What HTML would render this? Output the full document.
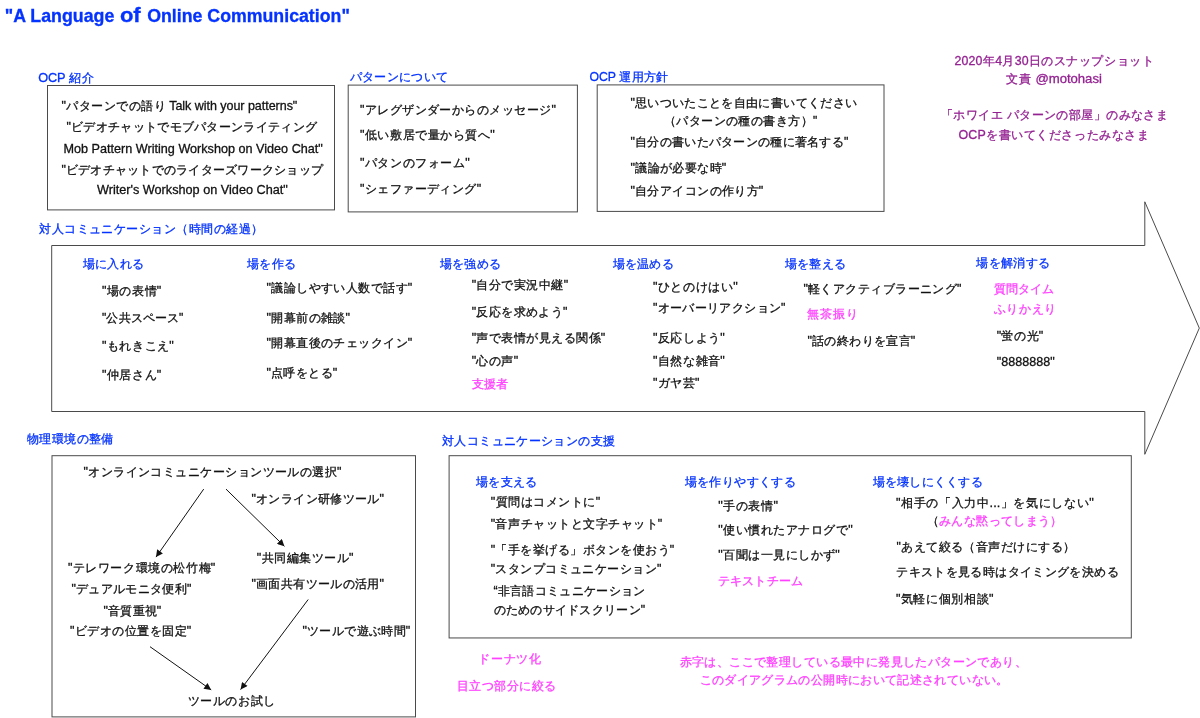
<!DOCTYPE html>
<html><head><meta charset="utf-8"><style>
html,body{margin:0;padding:0;background:#fff;width:1200px;height:718px;overflow:hidden}
svg{display:block;font-family:'Liberation Sans', sans-serif;will-change:transform}
text{stroke-width:0.3px}
</style></head><body>
<svg width="1200" height="718" viewBox="0 0 1200 718">

<g fill="none" stroke="#4a4a4a" stroke-width="1">
<rect x="47.5" y="85.5" width="287" height="124.4"/>
<rect x="348.2" y="85.1" width="229.2" height="126.8"/>
<rect x="597.2" y="84.9" width="286.8" height="126.5"/>
<path d="M51.7,245.5 H1144.8 V201.8 L1199.3,328.1 L1144.8,454.3 V411.5 H51.7 Z" stroke-linejoin="miter"/>
<rect x="52" y="455.7" width="363.5" height="261.2"/>
<rect x="449.1" y="455.7" width="682.2" height="182.25"/>
</g>
<defs><marker id="ah" viewBox="0 0 10 10" refX="10" refY="5" markerWidth="9" markerHeight="7" markerUnits="userSpaceOnUse" orient="auto">
<path d="M0,0 L10,5 L0,10 Z" fill="#111"/></marker></defs>
<g stroke="#111" stroke-width="1" marker-end="url(#ah)">
<line x1="203.7" y1="489.1" x2="156" y2="557.1"/>
<line x1="226" y1="489.1" x2="284.4" y2="546.3"/>
<line x1="150" y1="646.7" x2="211.2" y2="689.9"/>
<line x1="308.2" y1="599.5" x2="240.6" y2="689.6"/>
</g>

<text id="t0" x="4.70" y="21.50" font-size="17.79" font-weight="bold" textLength="109.60" lengthAdjust="spacing" fill="#0433ff" stroke="#0433ff"><tspan>&quot;A Language</tspan></text>
<text id="t1" x="119.90" y="21.50" font-size="19.80" font-weight="bold" textLength="20.80" lengthAdjust="spacingAndGlyphs" fill="#0433ff" stroke="#0433ff"><tspan>of</tspan></text>
<text id="t2" x="147.20" y="21.50" font-size="17.74" font-weight="bold" textLength="202.60" lengthAdjust="spacing" fill="#0433ff" stroke="#0433ff"><tspan>Online Communication&quot;</tspan></text>
<text id="t3" x="954.50" y="64.90" font-size="12.34" textLength="199.40" lengthAdjust="spacing" fill="#942192" stroke="#942192"><tspan>2020</tspan><tspan font-size="12.00" letter-spacing="0.34" dy="-0.00" dx="0.17">年</tspan><tspan dy="0.00" dx="-0.17">4</tspan><tspan font-size="12.00" letter-spacing="0.34" dy="-0.00" dx="0.17">月</tspan><tspan dy="0.00" dx="-0.17">30</tspan><tspan font-size="12.00" letter-spacing="0.34" dy="-0.00" dx="0.17">日のスナップショット</tspan></text>
<text id="t4" x="1005.50" y="83.40" font-size="13.17" textLength="95.80" lengthAdjust="spacing" fill="#942192" stroke="#942192"><tspan font-size="12.00" letter-spacing="1.17" dy="-0.00" dx="0.58">文責</tspan><tspan dy="0.00" dx="-0.58"> @motohasi</tspan></text>
<text id="t5" x="941.10" y="119.30" font-size="11.94" textLength="226.60" lengthAdjust="spacing" fill="#942192" stroke="#942192"><tspan font-size="12.00" letter-spacing="-0.06" dy="-0.00" dx="-0.03">「ホワイエ</tspan><tspan dy="0.00" dx="0.03"> </tspan><tspan font-size="12.00" letter-spacing="-0.06" dy="-0.00" dx="-0.03">パターンの部屋」のみなさま</tspan></text>
<text id="t6" x="958.50" y="139.00" font-size="12.45" textLength="190.80" lengthAdjust="spacing" fill="#942192" stroke="#942192"><tspan>OCP</tspan><tspan font-size="12.00" letter-spacing="0.45" dy="-0.00" dx="0.22">を書いてくださったみなさま</tspan></text>
<text id="t7" x="38.20" y="82.30" font-size="12.72" textLength="56.30" lengthAdjust="spacing" fill="#0433ff" stroke="#0433ff"><tspan>OCP </tspan><tspan font-size="12.00" letter-spacing="0.72" dy="-0.00" dx="0.36">紹介</tspan></text>
<text id="t8" x="349.50" y="80.80" font-size="12.22" textLength="98.80" lengthAdjust="spacing" fill="#0433ff" stroke="#0433ff"><tspan font-size="12.00" letter-spacing="0.22" dy="-0.00" dx="0.11">パターンについて</tspan></text>
<text id="t9" x="589.50" y="80.50" font-size="12.26" textLength="78.80" lengthAdjust="spacing" fill="#0433ff" stroke="#0433ff"><tspan>OCP </tspan><tspan font-size="12.00" letter-spacing="0.26" dy="-0.00" dx="0.13">運用方針</tspan></text>
<text id="t10" x="61.50" y="110.00" font-size="12.53" textLength="235.80" lengthAdjust="spacing" fill="#111" stroke="#111"><tspan>&quot;</tspan><tspan font-size="12.00" letter-spacing="0.53" dy="-0.00" dx="0.27">パターンでの語り</tspan><tspan dy="0.00" dx="-0.27"> Talk with your patterns&quot;</tspan></text>
<text id="t11" x="66.50" y="131.00" font-size="12.39" textLength="250.80" lengthAdjust="spacing" fill="#111" stroke="#111"><tspan>&quot;</tspan><tspan font-size="12.00" letter-spacing="0.39" dy="-0.00" dx="0.20">ビデオチャットでモブパターンライティング</tspan></text>
<text id="t12" x="63.50" y="152.50" font-size="12.63" textLength="259.30" lengthAdjust="spacing" fill="#111" stroke="#111"><tspan>Mob Pattern Writing Workshop on Video Chat&quot;</tspan></text>
<text id="t13" x="61.50" y="174.00" font-size="12.35" textLength="261.80" lengthAdjust="spacing" fill="#111" stroke="#111"><tspan>&quot;</tspan><tspan font-size="12.00" letter-spacing="0.35" dy="-0.00" dx="0.18">ビデオチャットでのライターズワークショップ</tspan></text>
<text id="t14" x="97.00" y="194.00" font-size="12.68" textLength="190.80" lengthAdjust="spacing" fill="#111" stroke="#111"><tspan>Writer&#x27;s Workshop on Video Chat&quot;</tspan></text>
<text id="t15" x="360.00" y="113.75" font-size="12.46" textLength="195.80" lengthAdjust="spacing" fill="#111" stroke="#111"><tspan>&quot;</tspan><tspan font-size="12.00" letter-spacing="0.46" dy="-0.00" dx="0.23">アレグザンダーからのメッセージ</tspan><tspan dy="0.00" dx="-0.23">&quot;</tspan></text>
<text id="t16" x="360.00" y="138.90" font-size="12.58" textLength="134.80" lengthAdjust="spacing" fill="#111" stroke="#111"><tspan>&quot;</tspan><tspan font-size="12.00" letter-spacing="0.58" dy="-0.00" dx="0.29">低い敷居で量から質へ</tspan><tspan dy="0.00" dx="-0.29">&quot;</tspan></text>
<text id="t17" x="360.00" y="166.50" font-size="12.60" textLength="109.80" lengthAdjust="spacing" fill="#111" stroke="#111"><tspan>&quot;</tspan><tspan font-size="12.00" letter-spacing="0.60" dy="-0.00" dx="0.30">パタンのフォーム</tspan><tspan dy="0.00" dx="-0.30">&quot;</tspan></text>
<text id="t18" x="360.00" y="193.25" font-size="12.46" textLength="121.05" lengthAdjust="spacing" fill="#111" stroke="#111"><tspan>&quot;</tspan><tspan font-size="12.00" letter-spacing="0.46" dy="-0.00" dx="0.23">シェファーディング</tspan><tspan dy="0.00" dx="-0.23">&quot;</tspan></text>
<text id="t19" x="630.50" y="106.50" font-size="12.41" textLength="226.80" lengthAdjust="spacing" fill="#111" stroke="#111"><tspan>&quot;</tspan><tspan font-size="12.00" letter-spacing="0.41" dy="-0.00" dx="0.20">思いついたことを自由に書いてください</tspan></text>
<text id="t20" x="663.90" y="125.30" font-size="11.90" textLength="153.40" lengthAdjust="spacing" fill="#111" stroke="#111"><tspan font-size="12.00" letter-spacing="-0.10" dy="-0.00" dx="-0.05">（パターンの種の書き方）</tspan><tspan dy="0.00" dx="0.05">&quot;</tspan></text>
<text id="t21" x="630.50" y="146.00" font-size="12.35" textLength="217.80" lengthAdjust="spacing" fill="#111" stroke="#111"><tspan>&quot;</tspan><tspan font-size="12.00" letter-spacing="0.35" dy="-0.00" dx="0.18">自分の書いたパターンの種に著名する</tspan><tspan dy="0.00" dx="-0.18">&quot;</tspan></text>
<text id="t22" x="630.50" y="171.50" font-size="12.55" textLength="95.80" lengthAdjust="spacing" fill="#111" stroke="#111"><tspan>&quot;</tspan><tspan font-size="12.00" letter-spacing="0.55" dy="-0.00" dx="0.28">議論が必要な時</tspan><tspan dy="0.00" dx="-0.28">&quot;</tspan></text>
<text id="t23" x="630.50" y="195.30" font-size="12.54" textLength="132.80" lengthAdjust="spacing" fill="#111" stroke="#111"><tspan>&quot;</tspan><tspan font-size="12.00" letter-spacing="0.54" dy="-0.00" dx="0.27">自分アイコンの作り方</tspan><tspan dy="0.00" dx="-0.27">&quot;</tspan></text>
<text id="t24" x="39.00" y="233.00" font-size="12.11" textLength="224.30" lengthAdjust="spacing" fill="#0433ff" stroke="#0433ff"><tspan font-size="12.00" letter-spacing="0.11" dy="-0.00" dx="0.06">対人コミュニケーション（時間の経過）</tspan></text>
<text id="t25" x="82.60" y="267.90" font-size="12.32" textLength="61.60" lengthAdjust="spacing" fill="#0433ff" stroke="#0433ff"><tspan font-size="12.00" letter-spacing="0.32" dy="-0.00" dx="0.16">場に入れる</tspan></text>
<text id="t26" x="246.70" y="267.90" font-size="12.37" textLength="49.50" lengthAdjust="spacing" fill="#0433ff" stroke="#0433ff"><tspan font-size="12.00" letter-spacing="0.37" dy="-0.00" dx="0.19">場を作る</tspan></text>
<text id="t27" x="439.70" y="267.90" font-size="12.30" textLength="61.50" lengthAdjust="spacing" fill="#0433ff" stroke="#0433ff"><tspan font-size="12.00" letter-spacing="0.30" dy="-0.00" dx="0.15">場を強める</tspan></text>
<text id="t28" x="612.40" y="267.90" font-size="12.30" textLength="61.50" lengthAdjust="spacing" fill="#0433ff" stroke="#0433ff"><tspan font-size="12.00" letter-spacing="0.30" dy="-0.00" dx="0.15">場を温める</tspan></text>
<text id="t29" x="784.90" y="267.70" font-size="12.18" textLength="60.90" lengthAdjust="spacing" fill="#0433ff" stroke="#0433ff"><tspan font-size="12.00" letter-spacing="0.18" dy="-0.00" dx="0.09">場を整える</tspan></text>
<text id="t30" x="975.90" y="266.50" font-size="12.36" textLength="74.60" lengthAdjust="spacing" fill="#0433ff" stroke="#0433ff"><tspan font-size="12.00" letter-spacing="0.36" dy="-0.00" dx="0.18">場を解消する</tspan></text>
<text id="t31" x="102.10" y="294.70" font-size="12.56" textLength="59.20" lengthAdjust="spacing" fill="#111" stroke="#111"><tspan>&quot;</tspan><tspan font-size="12.00" letter-spacing="0.56" dy="-0.00" dx="0.28">場の表情</tspan><tspan dy="0.00" dx="-0.28">&quot;</tspan></text>
<text id="t32" x="102.10" y="321.70" font-size="12.10" textLength="81.20" lengthAdjust="spacing" fill="#111" stroke="#111"><tspan>&quot;</tspan><tspan font-size="12.00" letter-spacing="0.10" dy="-0.00" dx="0.05">公共スペース</tspan><tspan dy="0.00" dx="-0.05">&quot;</tspan></text>
<text id="t33" x="102.10" y="349.90" font-size="12.55" textLength="71.70" lengthAdjust="spacing" fill="#111" stroke="#111"><tspan>&quot;</tspan><tspan font-size="12.00" letter-spacing="0.55" dy="-0.00" dx="0.28">もれきこえ</tspan><tspan dy="0.00" dx="-0.28">&quot;</tspan></text>
<text id="t34" x="102.10" y="379.20" font-size="12.56" textLength="59.20" lengthAdjust="spacing" fill="#111" stroke="#111"><tspan>&quot;</tspan><tspan font-size="12.00" letter-spacing="0.56" dy="-0.00" dx="0.28">仲居さん</tspan><tspan dy="0.00" dx="-0.28">&quot;</tspan></text>
<text id="t35" x="266.50" y="292.30" font-size="12.53" textLength="145.80" lengthAdjust="spacing" fill="#111" stroke="#111"><tspan>&quot;</tspan><tspan font-size="12.00" letter-spacing="0.53" dy="-0.00" dx="0.27">議論しやすい人数で話す</tspan><tspan dy="0.00" dx="-0.27">&quot;</tspan></text>
<text id="t36" x="266.50" y="322.20" font-size="12.62" textLength="83.60" lengthAdjust="spacing" fill="#111" stroke="#111"><tspan>&quot;</tspan><tspan font-size="12.00" letter-spacing="0.62" dy="-0.00" dx="0.31">開幕前の雑談</tspan><tspan dy="0.00" dx="-0.31">&quot;</tspan></text>
<text id="t37" x="266.50" y="347.20" font-size="12.53" textLength="145.80" lengthAdjust="spacing" fill="#111" stroke="#111"><tspan>&quot;</tspan><tspan font-size="12.00" letter-spacing="0.53" dy="-0.00" dx="0.27">開幕直後のチェックイン</tspan><tspan dy="0.00" dx="-0.27">&quot;</tspan></text>
<text id="t38" x="266.50" y="377.10" font-size="12.57" textLength="70.80" lengthAdjust="spacing" fill="#111" stroke="#111"><tspan>&quot;</tspan><tspan font-size="12.00" letter-spacing="0.57" dy="-0.00" dx="0.29">点呼をとる</tspan><tspan dy="0.00" dx="-0.29">&quot;</tspan></text>
<text id="t39" x="471.70" y="288.70" font-size="12.50" textLength="96.40" lengthAdjust="spacing" fill="#111" stroke="#111"><tspan>&quot;</tspan><tspan font-size="12.00" letter-spacing="0.50" dy="-0.00" dx="0.25">自分で実況中継</tspan><tspan dy="0.00" dx="-0.25">&quot;</tspan></text>
<text id="t40" x="471.70" y="316.30" font-size="12.42" textLength="95.80" lengthAdjust="spacing" fill="#111" stroke="#111"><tspan>&quot;</tspan><tspan font-size="12.00" letter-spacing="0.42" dy="-0.00" dx="0.21">反応を求めよう</tspan><tspan dy="0.00" dx="-0.21">&quot;</tspan></text>
<text id="t41" x="471.70" y="341.90" font-size="12.47" textLength="133.60" lengthAdjust="spacing" fill="#111" stroke="#111"><tspan>&quot;</tspan><tspan font-size="12.00" letter-spacing="0.47" dy="-0.00" dx="0.24">声で表情が見える関係</tspan><tspan dy="0.00" dx="-0.24">&quot;</tspan></text>
<text id="t42" x="471.70" y="365.40" font-size="12.53" textLength="46.50" lengthAdjust="spacing" fill="#111" stroke="#111"><tspan>&quot;</tspan><tspan font-size="12.00" letter-spacing="0.53" dy="-0.00" dx="0.26">心の声</tspan><tspan dy="0.00" dx="-0.26">&quot;</tspan></text>
<text id="t43" x="471.70" y="388.10" font-size="12.10" textLength="36.30" lengthAdjust="spacing" fill="#ff40ff" stroke="#ff40ff"><tspan font-size="12.00" letter-spacing="0.10" dy="-0.00" dx="0.05">支援者</tspan></text>
<text id="t44" x="653.10" y="290.50" font-size="12.60" textLength="84.60" lengthAdjust="spacing" fill="#111" stroke="#111"><tspan>&quot;</tspan><tspan font-size="12.00" letter-spacing="0.60" dy="-0.00" dx="0.30">ひとのけはい</tspan><tspan dy="0.00" dx="-0.30">&quot;</tspan></text>
<text id="t45" x="653.10" y="311.90" font-size="12.36" textLength="132.40" lengthAdjust="spacing" fill="#111" stroke="#111"><tspan>&quot;</tspan><tspan font-size="12.00" letter-spacing="0.36" dy="-0.00" dx="0.18">オーバーリアクション</tspan><tspan dy="0.00" dx="-0.18">&quot;</tspan></text>
<text id="t46" x="653.10" y="341.60" font-size="12.55" textLength="71.70" lengthAdjust="spacing" fill="#111" stroke="#111"><tspan>&quot;</tspan><tspan font-size="12.00" letter-spacing="0.55" dy="-0.00" dx="0.28">反応しよう</tspan><tspan dy="0.00" dx="-0.28">&quot;</tspan></text>
<text id="t47" x="653.10" y="365.00" font-size="12.55" textLength="71.70" lengthAdjust="spacing" fill="#111" stroke="#111"><tspan>&quot;</tspan><tspan font-size="12.00" letter-spacing="0.55" dy="-0.00" dx="0.28">自然な雑音</tspan><tspan dy="0.00" dx="-0.28">&quot;</tspan></text>
<text id="t48" x="653.10" y="386.60" font-size="12.50" textLength="46.40" lengthAdjust="spacing" fill="#111" stroke="#111"><tspan>&quot;</tspan><tspan font-size="12.00" letter-spacing="0.50" dy="-0.00" dx="0.25">ガヤ芸</tspan><tspan dy="0.00" dx="-0.25">&quot;</tspan></text>
<text id="t49" x="803.40" y="293.20" font-size="12.44" textLength="158.10" lengthAdjust="spacing" fill="#111" stroke="#111"><tspan>&quot;</tspan><tspan font-size="12.00" letter-spacing="0.44" dy="-0.00" dx="0.22">軽くアクティブラーニング</tspan><tspan dy="0.00" dx="-0.22">&quot;</tspan></text>
<text id="t50" x="806.50" y="317.80" font-size="12.15" textLength="51.40" lengthAdjust="spacing" fill="#ff40ff" stroke="#ff40ff"><tspan font-size="12.00" letter-spacing="0.15" dy="-0.00" dx="0.07">無茶振り</tspan></text>
<text id="t51" x="807.50" y="345.20" font-size="12.55" textLength="107.80" lengthAdjust="spacing" fill="#111" stroke="#111"><tspan>&quot;</tspan><tspan font-size="12.00" letter-spacing="0.55" dy="-0.00" dx="0.27">話の終わりを宣言</tspan><tspan dy="0.00" dx="-0.27">&quot;</tspan></text>
<text id="t52" x="993.70" y="293.20" font-size="12.04" textLength="60.60" lengthAdjust="spacing" fill="#ff40ff" stroke="#ff40ff"><tspan font-size="12.00" letter-spacing="0.04" dy="-0.00" dx="0.02">質問タイム</tspan></text>
<text id="t53" x="993.70" y="313.20" font-size="12.04" textLength="62.60" lengthAdjust="spacing" fill="#ff40ff" stroke="#ff40ff"><tspan font-size="12.00" letter-spacing="0.04" dy="-0.00" dx="0.02">ふりかえり</tspan></text>
<text id="t54" x="996.80" y="340.20" font-size="12.50" textLength="46.40" lengthAdjust="spacing" fill="#111" stroke="#111"><tspan>&quot;</tspan><tspan font-size="12.00" letter-spacing="0.50" dy="-0.00" dx="0.25">蛍の光</tspan><tspan dy="0.00" dx="-0.25">&quot;</tspan></text>
<text id="t55" x="996.80" y="365.60" font-size="12.56" textLength="57.80" lengthAdjust="spacing" fill="#111" stroke="#111"><tspan>&quot;8888888&quot;</tspan></text>
<text id="t56" x="26.50" y="442.80" font-size="12.46" textLength="87.20" lengthAdjust="spacing" fill="#0433ff" stroke="#0433ff"><tspan font-size="12.00" letter-spacing="0.46" dy="-0.00" dx="0.23">物理環境の整備</tspan></text>
<text id="t57" x="83.50" y="476.30" font-size="12.52" textLength="258.00" lengthAdjust="spacing" fill="#111" stroke="#111"><tspan>&quot;</tspan><tspan font-size="12.00" letter-spacing="0.52" dy="-0.00" dx="0.26">オンラインコミュニケーションツールの選択</tspan><tspan dy="0.00" dx="-0.26">&quot;</tspan></text>
<text id="t58" x="251.50" y="503.00" font-size="12.52" textLength="132.40" lengthAdjust="spacing" fill="#111" stroke="#111"><tspan>&quot;</tspan><tspan font-size="12.00" letter-spacing="0.52" dy="-0.00" dx="0.26">オンライン研修ツール</tspan><tspan dy="0.00" dx="-0.26">&quot;</tspan></text>
<text id="t59" x="256.80" y="562.30" font-size="12.54" textLength="96.70" lengthAdjust="spacing" fill="#111" stroke="#111"><tspan>&quot;</tspan><tspan font-size="12.00" letter-spacing="0.54" dy="-0.00" dx="0.27">共同編集ツール</tspan><tspan dy="0.00" dx="-0.27">&quot;</tspan></text>
<text id="t60" x="251.50" y="588.00" font-size="12.52" textLength="132.40" lengthAdjust="spacing" fill="#111" stroke="#111"><tspan>&quot;</tspan><tspan font-size="12.00" letter-spacing="0.52" dy="-0.00" dx="0.26">画面共有ツールの活用</tspan><tspan dy="0.00" dx="-0.26">&quot;</tspan></text>
<text id="t61" x="68.00" y="572.10" font-size="12.58" textLength="147.30" lengthAdjust="spacing" fill="#111" stroke="#111"><tspan>&quot;</tspan><tspan font-size="12.00" letter-spacing="0.58" dy="-0.00" dx="0.29">テレワーク環境の松竹梅</tspan><tspan dy="0.00" dx="-0.29">&quot;</tspan></text>
<text id="t62" x="71.40" y="592.80" font-size="12.35" textLength="119.90" lengthAdjust="spacing" fill="#111" stroke="#111"><tspan>&quot;</tspan><tspan font-size="12.00" letter-spacing="0.35" dy="-0.00" dx="0.17">デュアルモニタ便利</tspan><tspan dy="0.00" dx="-0.17">&quot;</tspan></text>
<text id="t63" x="103.50" y="614.50" font-size="12.48" textLength="57.80" lengthAdjust="spacing" fill="#111" stroke="#111"><tspan>&quot;</tspan><tspan font-size="12.00" letter-spacing="0.48" dy="-0.00" dx="0.24">音質重視</tspan><tspan dy="0.00" dx="-0.24">&quot;</tspan></text>
<text id="t64" x="69.90" y="635.00" font-size="12.50" textLength="121.40" lengthAdjust="spacing" fill="#111" stroke="#111"><tspan>&quot;</tspan><tspan font-size="12.00" letter-spacing="0.50" dy="-0.00" dx="0.25">ビデオの位置を固定</tspan><tspan dy="0.00" dx="-0.25">&quot;</tspan></text>
<text id="t65" x="302.50" y="635.00" font-size="12.49" textLength="107.80" lengthAdjust="spacing" fill="#111" stroke="#111"><tspan>&quot;</tspan><tspan font-size="12.00" letter-spacing="0.49" dy="-0.00" dx="0.24">ツールで遊ぶ時間</tspan><tspan dy="0.00" dx="-0.24">&quot;</tspan></text>
<text id="t66" x="187.50" y="704.50" font-size="12.26" textLength="87.80" lengthAdjust="spacing" fill="#111" stroke="#111"><tspan font-size="12.00" letter-spacing="0.26" dy="-0.00" dx="0.13">ツールのお試し</tspan></text>
<text id="t67" x="441.80" y="445.20" font-size="12.38" textLength="173.30" lengthAdjust="spacing" fill="#0433ff" stroke="#0433ff"><tspan font-size="12.00" letter-spacing="0.38" dy="-0.00" dx="0.19">対人コミュニケーションの支援</tspan></text>
<text id="t68" x="476.10" y="485.50" font-size="12.20" textLength="61.00" lengthAdjust="spacing" fill="#0433ff" stroke="#0433ff"><tspan font-size="12.00" letter-spacing="0.20" dy="-0.00" dx="0.10">場を支える</tspan></text>
<text id="t69" x="684.30" y="485.50" font-size="12.42" textLength="111.80" lengthAdjust="spacing" fill="#0433ff" stroke="#0433ff"><tspan font-size="12.00" letter-spacing="0.42" dy="-0.00" dx="0.21">場を作りやすくする</tspan></text>
<text id="t70" x="872.40" y="486.20" font-size="12.28" textLength="110.50" lengthAdjust="spacing" fill="#0433ff" stroke="#0433ff"><tspan font-size="12.00" letter-spacing="0.28" dy="-0.00" dx="0.14">場を壊しにくくする</tspan></text>
<text id="t71" x="490.80" y="506.00" font-size="12.55" textLength="109.30" lengthAdjust="spacing" fill="#111" stroke="#111"><tspan>&quot;</tspan><tspan font-size="12.00" letter-spacing="0.55" dy="-0.00" dx="0.27">質問はコメントに</tspan><tspan dy="0.00" dx="-0.27">&quot;</tspan></text>
<text id="t72" x="490.80" y="528.00" font-size="12.51" textLength="171.50" lengthAdjust="spacing" fill="#111" stroke="#111"><tspan>&quot;</tspan><tspan font-size="12.00" letter-spacing="0.51" dy="-0.00" dx="0.25">音声チャットと文字チャット</tspan><tspan dy="0.00" dx="-0.25">&quot;</tspan></text>
<text id="t73" x="490.80" y="554.00" font-size="12.47" textLength="183.50" lengthAdjust="spacing" fill="#111" stroke="#111"><tspan>&quot;</tspan><tspan font-size="12.00" letter-spacing="0.47" dy="-0.00" dx="0.24">「手を挙げる」ボタンを使おう</tspan><tspan dy="0.00" dx="-0.24">&quot;</tspan></text>
<text id="t74" x="490.80" y="573.00" font-size="12.43" textLength="170.50" lengthAdjust="spacing" fill="#111" stroke="#111"><tspan>&quot;</tspan><tspan font-size="12.00" letter-spacing="0.43" dy="-0.00" dx="0.22">スタンプコミュニケーション</tspan><tspan dy="0.00" dx="-0.22">&quot;</tspan></text>
<text id="t75" x="493.50" y="595.00" font-size="12.36" textLength="152.00" lengthAdjust="spacing" fill="#111" stroke="#111"><tspan>“</tspan><tspan font-size="12.00" letter-spacing="0.36" dy="-0.00" dx="0.18">非言語コミュニケーション</tspan></text>
<text id="t76" x="493.50" y="614.30" font-size="12.25" textLength="151.40" lengthAdjust="spacing" fill="#111" stroke="#111"><tspan font-size="12.00" letter-spacing="0.25" dy="-0.00" dx="0.13">のためのサイドスクリーン</tspan><tspan dy="0.00" dx="-0.13">&quot;</tspan></text>
<text id="t77" x="718.30" y="510.10" font-size="12.65" textLength="59.60" lengthAdjust="spacing" fill="#111" stroke="#111"><tspan>&quot;</tspan><tspan font-size="12.00" letter-spacing="0.65" dy="-0.00" dx="0.32">手の表情</tspan><tspan dy="0.00" dx="-0.32">&quot;</tspan></text>
<text id="t78" x="718.30" y="533.80" font-size="12.56" textLength="134.50" lengthAdjust="spacing" fill="#111" stroke="#111"><tspan>&quot;</tspan><tspan font-size="12.00" letter-spacing="0.56" dy="-0.00" dx="0.28">使い慣れたアナログで</tspan><tspan dy="0.00" dx="-0.28">&quot;</tspan></text>
<text id="t79" x="718.30" y="559.10" font-size="12.51" textLength="121.50" lengthAdjust="spacing" fill="#111" stroke="#111"><tspan>&quot;</tspan><tspan font-size="12.00" letter-spacing="0.51" dy="-0.00" dx="0.26">百聞は一見にしかず</tspan><tspan dy="0.00" dx="-0.26">&quot;</tspan></text>
<text id="t80" x="717.50" y="584.50" font-size="12.23" textLength="85.60" lengthAdjust="spacing" fill="#ff40ff" stroke="#ff40ff"><tspan font-size="12.00" letter-spacing="0.23" dy="-0.00" dx="0.11">テキストチーム</tspan></text>
<text id="t81" x="896.00" y="507.10" font-size="12.72" textLength="197.80" lengthAdjust="spacing" fill="#111" stroke="#111"><tspan>&quot;</tspan><tspan font-size="12.00" letter-spacing="0.72" dy="-0.00" dx="0.36">相手の「入力中</tspan><tspan dy="0.00" dx="-0.36">...</tspan><tspan font-size="12.00" letter-spacing="0.72" dy="-0.00" dx="0.36">」を気にしない</tspan><tspan dy="0.00" dx="-0.36">&quot;</tspan></text>
<text id="t82" x="927.10" y="524.80" font-size="11.22" textLength="135.00" lengthAdjust="spacing" fill="#111" stroke="#111"><tspan font-size="12.00" letter-spacing="-0.78" dy="-0.00" dx="-0.39">（</tspan><tspan fill="#ff40ff" stroke="#ff40ff" font-size="12.00" letter-spacing="-0.78">みんな黙ってしまう）</tspan></text>
<text id="t83" x="896.50" y="550.80" font-size="12.03" textLength="178.60" lengthAdjust="spacing" fill="#111" stroke="#111"><tspan>&quot;</tspan><tspan font-size="12.00" letter-spacing="0.03" dy="-0.00" dx="0.01">あえて絞る（音声だけにする）</tspan></text>
<text id="t84" x="896.00" y="575.80" font-size="12.38" textLength="222.80" lengthAdjust="spacing" fill="#111" stroke="#111"><tspan font-size="12.00" letter-spacing="0.38" dy="-0.00" dx="0.19">テキストを見る時はタイミングを決める</tspan></text>
<text id="t85" x="896.00" y="602.90" font-size="12.64" textLength="97.50" lengthAdjust="spacing" fill="#111" stroke="#111"><tspan>&quot;</tspan><tspan font-size="12.00" letter-spacing="0.64" dy="-0.00" dx="0.32">気軽に個別相談</tspan><tspan dy="0.00" dx="-0.32">&quot;</tspan></text>
<text id="t86" x="478.50" y="663.05" font-size="11.91" textLength="62.30" lengthAdjust="spacing" fill="#ff40ff" stroke="#ff40ff"><tspan font-size="12.00" letter-spacing="-0.09" dy="-0.00" dx="-0.04">ドーナツ化</tspan></text>
<text id="t87" x="456.50" y="690.05" font-size="12.29" textLength="99.80" lengthAdjust="spacing" fill="#ff40ff" stroke="#ff40ff"><tspan font-size="12.00" letter-spacing="0.29" dy="-0.00" dx="0.14">目立つ部分に絞る</tspan></text>
<text id="t88" x="679.50" y="666.25" font-size="12.13" textLength="347.30" lengthAdjust="spacing" fill="#ff40ff" stroke="#ff40ff"><tspan font-size="12.00" letter-spacing="0.13" dy="-0.00" dx="0.06">赤字は、ここで整理している最中に発見したパターンであり、</tspan></text>
<text id="t89" x="699.50" y="684.20" font-size="11.99" textLength="308.80" lengthAdjust="spacing" fill="#ff40ff" stroke="#ff40ff"><tspan font-size="12.00" letter-spacing="-0.01" dy="-0.00" dx="-0.00">このダイアグラムの公開時において記述されていない。</tspan></text>
</svg></body></html>
